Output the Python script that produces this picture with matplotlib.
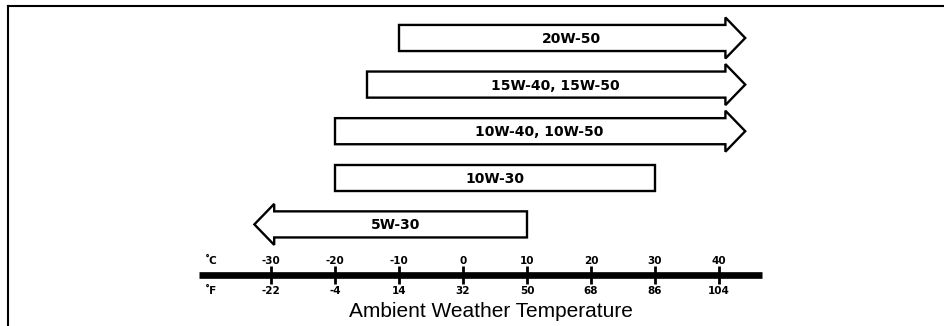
import matplotlib
matplotlib.use("Agg")
import matplotlib.pyplot as plt
from matplotlib.patches import Polygon
from matplotlib.lines import Line2D

# ---- data ----
grades = ['20W-50', '15W-40, 15W-50', '10W-40, 10W-50', '10W-30', '5W-30']
low_c = [-10, -15, -20, -20, -29.5]      # lower limit (°C); last is open-ended (arrow)
high_c = [41, 41, 41, 30, 10]            # upper limit (°C); first three open-ended (arrow)
open_low = [False, False, False, False, True]
open_high = [True, True, True, False, False]
celsius_ticks = [-30, -20, -10, 0, 10, 20, 30, 40]
fahrenheit_labels = ['-22', '-4', '14', '32', '50', '68', '86', '104']
label_x = [17.0, 14.5, 11.9, 5.0, -10.6]
axis_title = 'Ambient Weather Temperature'

# ---- layout ----
fig = plt.figure(figsize=(9.44, 3.26), dpi=100)
ax = fig.add_axes([0, 0, 1, 1])
ax.set_xlim((0 - 463) / 6.4, (944 - 463) / 6.4)
ax.set_ylim(6.18, -0.815)
ax.axis('off')

body_h = 0.28
head_h = 0.44
head_len = 3.1

for i, (g, lo, hi, ol, oh) in enumerate(zip(grades, low_c, high_c, open_low, open_high)):
    y = i
    pts = []
    pts.append((lo, y - body_h))
    if oh:
        pts += [(hi, y - body_h), (hi, y - head_h), (hi + head_len, y), (hi, y + head_h), (hi, y + body_h)]
    else:
        pts += [(hi, y - body_h), (hi, y + body_h)]
    if ol:
        pts += [(lo, y + body_h), (lo, y + head_h), (lo - head_len, y), (lo, y - head_h)]
    else:
        pts += [(lo, y + body_h)]
    poly = Polygon(pts, closed=True, facecolor='white', edgecolor='black',
                   linewidth=1.7, joinstyle='miter')
    ax.add_patch(poly)
    ax.text(label_x[i], y + 0.02, g, ha='center', va='center', fontsize=10,
            fontweight='bold', family='DejaVu Sans', color='black')

# temperature axis
axis_y = 5.086
ax.plot([-41.2, 46.7], [axis_y, axis_y], color='black', lw=4.8, solid_capstyle='butt')
for c, f in zip(celsius_ticks, fahrenheit_labels):
    ax.plot([c, c], [axis_y - 0.19, axis_y + 0.19], color='black', lw=2.0, solid_capstyle='butt')
    ax.text(c, 4.79, str(c), ha='center', va='center', fontsize=7.5,
            fontweight='bold', family='DejaVu Sans')
    ax.text(c, 5.43, f, ha='center', va='center', fontsize=7.5,
            fontweight='bold', family='DejaVu Sans')
ax.text(-40.4, 4.79, '˚C', ha='left', va='center', fontsize=7.5, fontweight='bold', family='DejaVu Sans')
ax.text(-40.4, 5.43, '˚F', ha='left', va='center', fontsize=7.5, fontweight='bold', family='DejaVu Sans')
ax.text(4.4, 5.99, axis_title, ha='center', va='baseline', fontsize=15, family='Liberation Sans')

# frame lines (top and left)
fig.add_artist(Line2D([8 / 944, 1], [1 - 6 / 326, 1 - 6 / 326], transform=fig.transFigure,
                      color='black', lw=1.5))
fig.add_artist(Line2D([8 / 944, 8 / 944], [0, 1 - 6 / 326], transform=fig.transFigure,
                      color='black', lw=1.5))

fig.savefig('out.png', dpi=100, facecolor='white')
